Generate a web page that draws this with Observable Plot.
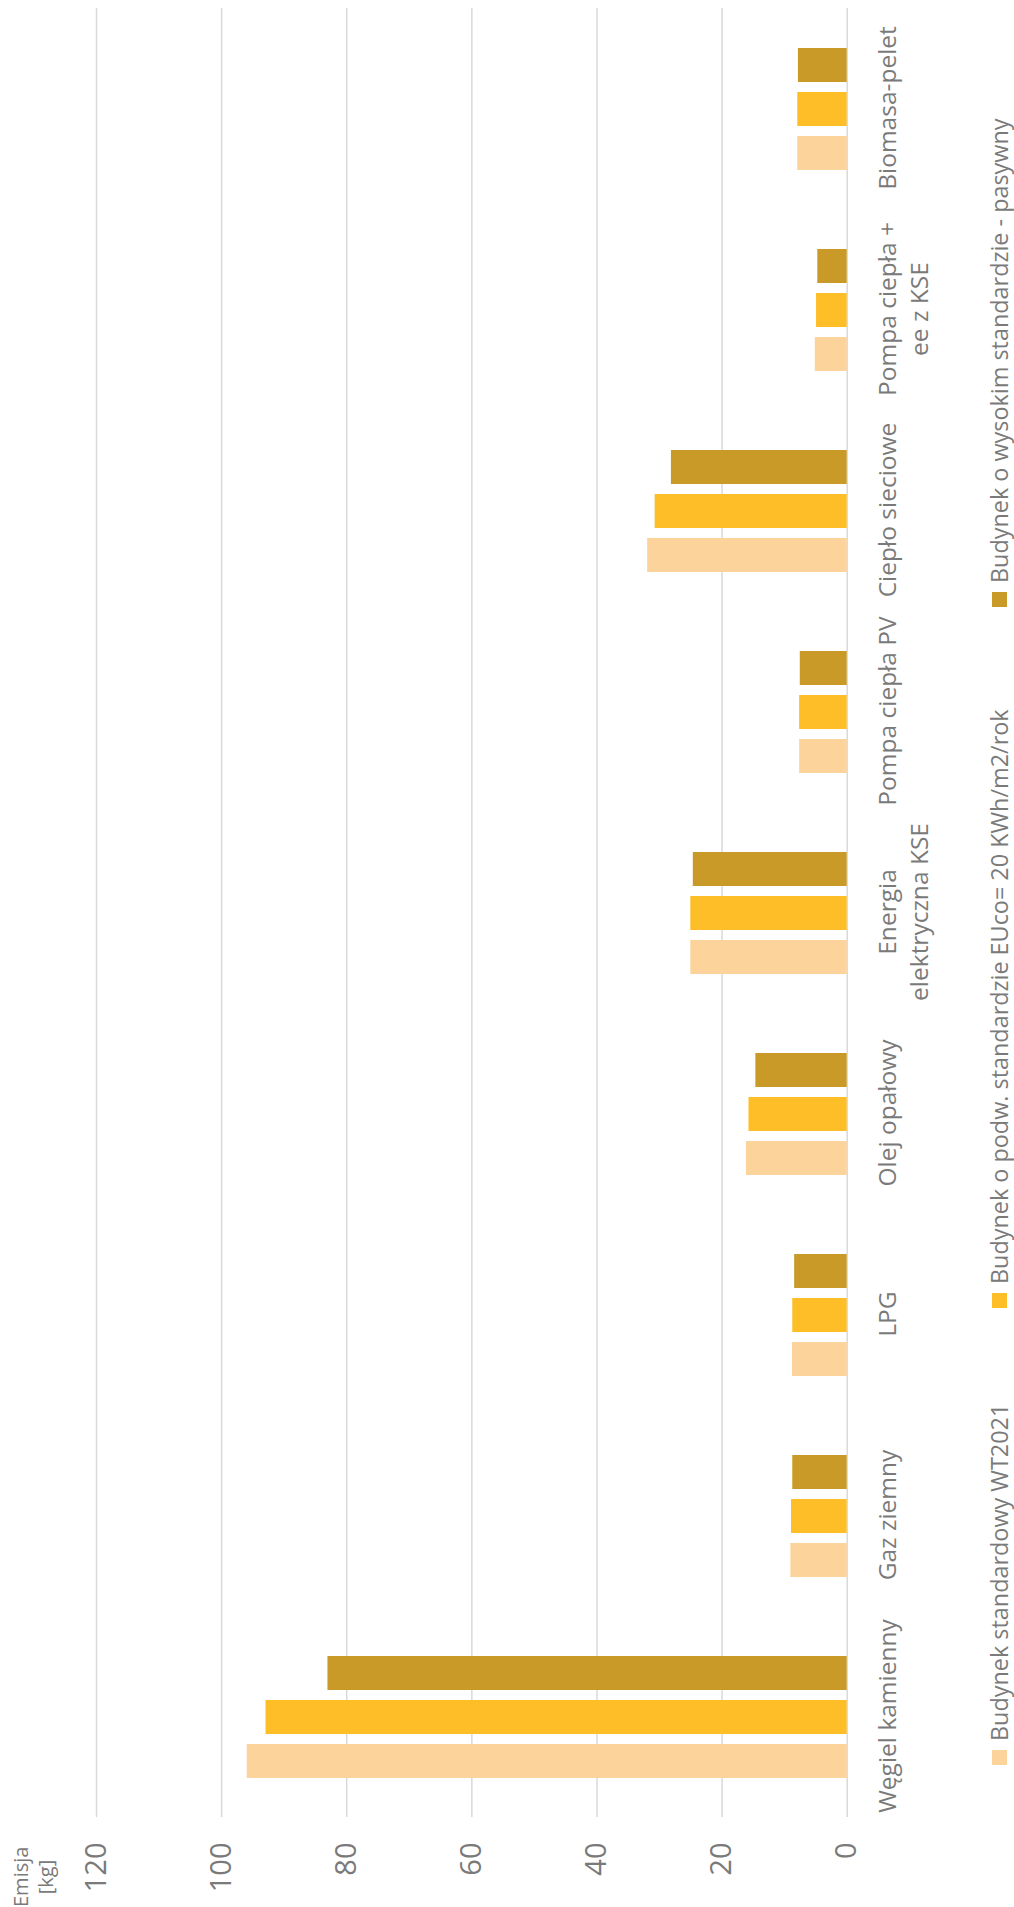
<!DOCTYPE html>
<html>
<head>
<meta charset="utf-8">
<script src="https://cdn.jsdelivr.net/npm/d3@7"></script>
<script src="https://cdn.jsdelivr.net/npm/@observablehq/plot@0.6"></script>
<style>
  html, body { margin: 0; padding: 0; background: #fff; overflow: hidden; width: 1014px; height: 1907px; }
  #rot { position: absolute; left: 0; top: 0; width: 1907px; height: 1014px; transform-origin: 0 0; transform: translate(0px, 1907px) rotate(-90deg); background: #fff; font-family: "Open Sans", sans-serif; color: #7a7a7a; }
  #chart { position: absolute; left: 0; top: 0; }
  #title { position: absolute; left: 0; top: 8px; width: 60px; text-align: center; font-size: 20px; line-height: 25px; }
  #legend { position: absolute; left: 0; top: 984px; width: 1907px; height: 30px; }
  #legend .item { position: absolute; top: 0; height: 30px; display: flex; align-items: center; white-space: nowrap; line-height: 30px; }
  #legend .sw { width: 15px; height: 15px; margin-right: 9px; flex: none; }
</style>
</head>
<body>
<div id="rot">
  <div id="chart"></div>
  <div id="title">Emisja<br>[kg]</div>
  <div id="legend"></div>
</div>
<script>
const categories = ["Węgiel kamienny", "Gaz ziemny", "LPG", "Olej opałowy", "Energia elektryczna KSE", "Pompa ciepła PV", "Ciepło sieciowe", "Pompa ciepła + ee z KSE", "Biomasa-pelet"];
const categoryLabels = ["Węgiel kamienny", "Gaz ziemny", "LPG", "Olej opałowy", "Energia\nelektryczna KSE", "Pompa ciepła PV", "Ciepło sieciowe", "Pompa ciepła +\nee z KSE", "Biomasa-pelet"];
const seriesNames = ["Budynek standardowy WT2021", "Budynek o podw. standardzie EUco= 20 KWh/m2/rok", "Budynek o wysokim standardzie - pasywny"];
const standardowy = [95.9, 9.0, 8.75, 16.1, 25.0, 7.6, 31.9, 5.1, 7.9];
const podwyzszony = [92.9, 8.9, 8.7, 15.7, 25.0, 7.6, 30.7, 4.9, 7.9];
const pasywny = [83.0, 8.7, 8.4, 14.6, 24.6, 7.5, 28.1, 4.7, 7.8];
const seriesColors = ["#FCD39A", "#FDBE28", "#C99A28"];
const yTicks = [0, 20, 40, 60, 80, 100, 120];

// legend layout (item start offsets and target text span, px)
const legendStarts = [142, 599, 1300];
const legendTextSpan = 1377;

const seriesValues = [standardowy, podwyzszony, pasywny];
const rows = [];
categories.forEach((c, i) => {
  seriesNames.forEach((s, j) => rows.push({category: c, series: s, value: seriesValues[j][i]}));
});
const labelOf = new Map(categories.map((c, i) => [c, categoryLabels[i]]));

const chart = Plot.plot({
  width: 1907,
  height: 975,
  marginLeft: 90,
  marginRight: 8,
  marginTop: 96,
  marginBottom: 128.3,
  style: {fontFamily: "'Open Sans', sans-serif", color: "#7a7a7a", background: "#fff"},
  fx: {domain: categories, padding: 0, axis: null, label: null},
  x: {domain: seriesNames, paddingInner: 0.22, paddingOuter: 0.86, axis: null},
  y: {domain: [0, 120], axis: null},
  color: {domain: seriesNames, range: seriesColors},
  marks: [
    Plot.gridY(yTicks, {stroke: "#d9d9d9", strokeOpacity: 1, strokeWidth: 1.5}),
    Plot.barY(rows, {fx: "category", x: "series", y: "value", fill: "series"}),
    Plot.axisY(yTicks, {anchor: "left", tickSize: 0, tickPadding: 26, fontSize: 29, label: null, fill: "#7a7a7a"}),
    Plot.axisFx({anchor: "bottom", tickSize: 0, tickPadding: 26, fontSize: 24.5, lineHeight: 1.3, label: null, fill: "#7a7a7a", tickFormat: d => labelOf.get(d)})
  ]
});
document.getElementById("chart").appendChild(chart);

// fit legend font so that the three labels take the same total width as in the source
const ctx = document.createElement("canvas").getContext("2d");
ctx.font = "24px 'Open Sans'";
const measured = d3.sum(seriesNames, s => ctx.measureText(s).width);
const legendFont = Math.max(20, Math.min(27, 24 * legendTextSpan / measured));

const legend = document.getElementById("legend");
seriesNames.forEach((s, j) => {
  const item = document.createElement("div");
  item.className = "item";
  item.style.left = legendStarts[j] + "px";
  item.style.fontSize = legendFont + "px";
  const sw = document.createElement("span");
  sw.className = "sw";
  sw.style.background = seriesColors[j];
  const t = document.createElement("span");
  t.textContent = s;
  item.appendChild(sw);
  item.appendChild(t);
  legend.appendChild(item);
});
</script>
</body>
</html>
